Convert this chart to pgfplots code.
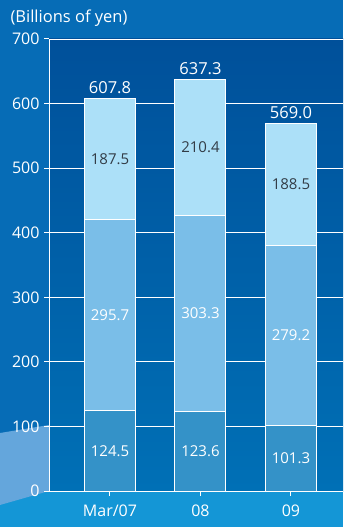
\documentclass[border=0pt]{standalone}
\usepackage{pgfplots}
\usepackage{pgfplotstable}
\pgfplotsset{compat=1.18}
\usepackage{fontspec}
\setmainfont{Open Sans}
\definecolor{bgout}{RGB}{6,108,182}
\definecolor{bgtop}{RGB}{0,80,154}
\definecolor{bgbot}{RGB}{0,112,182}
\definecolor{band}{RGB}{20,150,214}
\definecolor{wave}{RGB}{100,166,220}
\definecolor{segA}{RGB}{52,146,200}
\definecolor{segB}{RGB}{122,190,232}
\definecolor{segC}{RGB}{172,224,248}
\definecolor{darktxt}{RGB}{50,60,70}
\pgfplotstableread{
x a b c
0 124.5 295.7 187.5
1 123.6 303.3 210.4
2 101.3 279.2 188.5
}\bardata
\tikzset{lbl/.style={font=\fontsize{15}{18}\selectfont},
  tot/.style={font=\fontsize{16.5}{19}\selectfont, text=white, anchor=south, yshift=1pt}}
\begin{document}
\begin{tikzpicture}
\useasboundingbox (0pt,0pt) rectangle (343pt,527pt);
\fill[bgout] (0pt,0pt) rectangle (343pt,527pt);
\fill[band] (0pt,0pt) rectangle (343pt,36pt);
\fill[wave] (0pt,94pt) -- (49pt,102pt) -- (49pt,36pt) -- (0pt,22pt) -- cycle;
\node[anchor=west,text=white,font=\fontsize{16.5}{20}\selectfont] at (7pt,509pt) {(Billions of yen)};
\begin{axis}[
  at={(49pt,36pt)}, anchor=south west, scale only axis,
  width=294pt, height=452pt,
  xmin=-0.674, xmax=2.575, ymin=0, ymax=700,
  ytick={0,100,...,700}, xtick={0,1,2}, xticklabels={Mar/07,08,09},
  ybar stacked, bar width=51pt,
  axis background/.style={top color=bgtop, bottom color=bgbot},
  axis x line*=bottom, axis y line*=left,
  axis line style={white, line width=1pt, -},
  ymajorgrids, grid style={white, line width=0.9pt},
  tick align=outside, major tick length=5pt,
  tick style={white, line width=1pt},
  tick label style={text=white, font=\fontsize{16}{18}\selectfont},
  /pgf/number format/assume math mode=true,
  yticklabel style={xshift=-1pt},
  xticklabel style={yshift=-5pt},
  clip=false,
]
\addplot[fill=segA, draw=white, line width=1pt] table[x=x,y=a]{\bardata};
\addplot[fill=segB, draw=white, line width=1pt] table[x=x,y=b]{\bardata};
\addplot[fill=segC, draw=white, line width=1pt] table[x=x,y=c]{\bardata};
\coordinate (a0) at (axis cs:0,62.25);
\coordinate (a1) at (axis cs:1,61.8);
\coordinate (a2) at (axis cs:2,50.65);
\coordinate (b0) at (axis cs:0,272.35);
\coordinate (b1) at (axis cs:1,275.25);
\coordinate (b2) at (axis cs:2,240.9);
\coordinate (c0) at (axis cs:0,513.95);
\coordinate (c1) at (axis cs:1,532.1);
\coordinate (c2) at (axis cs:2,474.75);
\coordinate (t0) at (axis cs:0,607.7);
\coordinate (t1) at (axis cs:1,637.3);
\coordinate (t2) at (axis cs:2,569.0);
\end{axis}
\node[lbl,text=white] at (a0) {124.5};
\node[lbl,text=white] at (a1) {123.6};
\node[lbl,text=white] at (a2) {101.3};
\node[lbl,text=white] at (b0) {295.7};
\node[lbl,text=white] at (b1) {303.3};
\node[lbl,text=white] at (b2) {279.2};
\node[lbl,text=darktxt] at (c0) {187.5};
\node[lbl,text=darktxt] at (c1) {210.4};
\node[lbl,text=darktxt] at (c2) {188.5};
\node[tot] at (t0) {607.8};
\node[tot] at (t1) {637.3};
\node[tot] at (t2) {569.0};
\end{tikzpicture}
\end{document}
